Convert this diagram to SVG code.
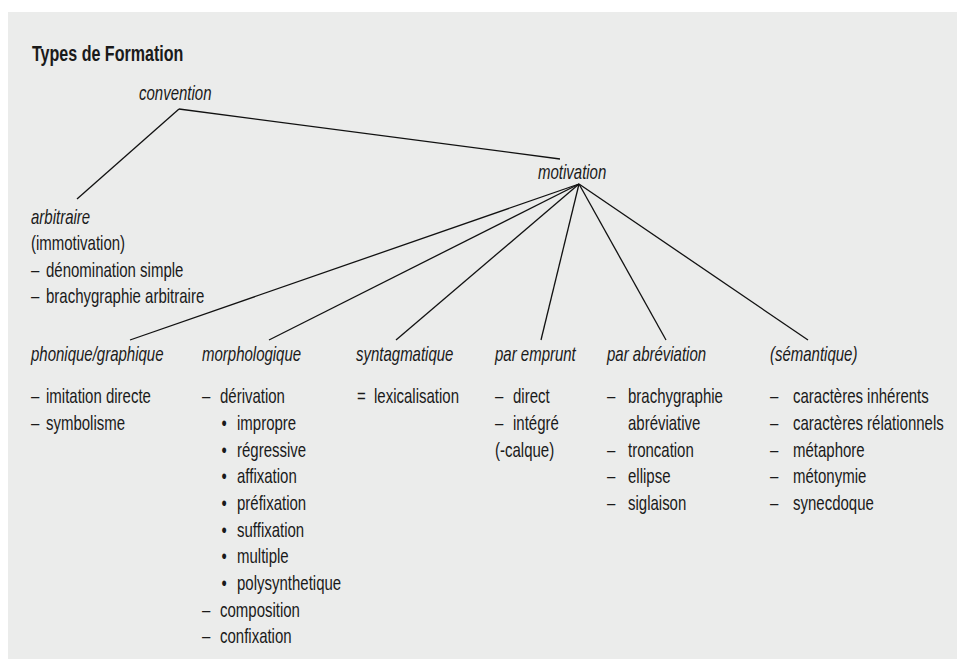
<svg xmlns="http://www.w3.org/2000/svg" width="957" height="660" viewBox="0 0 957 660">
<style>
.bg{fill:#ebeceb}
text{font-family:"Liberation Sans",Arial,sans-serif;font-size:20px;fill:#1a1a1a}
.i{font-style:italic}
.title{font-weight:bold;font-size:22px}
.c line{stroke:#111;stroke-width:1.3;fill:none}
</style>
<rect width="957" height="660" fill="#ffffff"/>
<rect class="bg" x="8" y="12" width="949" height="647"/>
<text class="title" transform="translate(32 61) scale(0.73 1)">Types de Formation</text>

<g id="connectors" class="c">
<line x1="179" y1="109" x2="77" y2="199"/>
<line x1="179" y1="109" x2="560" y2="159"/>
<line x1="579" y1="184" x2="130" y2="340"/>
<line x1="579" y1="184" x2="269" y2="340"/>
<line x1="579" y1="184" x2="396" y2="340"/>
<line x1="579" y1="184" x2="541" y2="340"/>
<line x1="579" y1="184" x2="666" y2="340"/>
<line x1="579" y1="184" x2="808" y2="340"/>
</g>

<g id="n-convention">
<text class="i" transform="translate(139 100) scale(0.75 1)">convention</text>
</g>
<g id="n-motivation">
<text class="i" transform="translate(538 179) scale(0.75 1)">motivation</text>
</g>
<g id="n-arbitraire">
<text class="i" transform="translate(31 224) scale(0.75 1)">arbitraire</text>
<text transform="translate(31 250) scale(0.75 1)">(immotivation)</text>
<text transform="translate(31 277) scale(0.75 1)">–<tspan x="20">dénomination simple</tspan></text>
<text transform="translate(31 303) scale(0.75 1)">–<tspan x="20">brachygraphie arbitraire</tspan></text>
</g>

<g id="n-phonique">
<text class="i" transform="translate(31 361) scale(0.75 1)">phonique/graphique</text>
<text transform="translate(31 403) scale(0.75 1)">–<tspan x="20">imitation directe</tspan></text>
<text transform="translate(31 430) scale(0.75 1)">–<tspan x="20">symbolisme</tspan></text>
</g>

<g id="n-morphologique">
<text class="i" transform="translate(202 361) scale(0.75 1)">morphologique</text>
<text transform="translate(202 403) scale(0.75 1)">–<tspan x="24">dérivation</tspan></text>
<text transform="translate(202 430) scale(0.75 1)"><tspan x="26">•</tspan><tspan x="46.7">impropre</tspan></text>
<text transform="translate(202 457) scale(0.75 1)"><tspan x="26">•</tspan><tspan x="46.7">régressive</tspan></text>
<text transform="translate(202 483) scale(0.75 1)"><tspan x="26">•</tspan><tspan x="46.7">affixation</tspan></text>
<text transform="translate(202 510) scale(0.75 1)"><tspan x="26">•</tspan><tspan x="46.7">préfixation</tspan></text>
<text transform="translate(202 537) scale(0.75 1)"><tspan x="26">•</tspan><tspan x="46.7">suffixation</tspan></text>
<text transform="translate(202 563) scale(0.75 1)"><tspan x="26">•</tspan><tspan x="46.7">multiple</tspan></text>
<text transform="translate(202 590) scale(0.75 1)"><tspan x="26">•</tspan><tspan x="46.7">polysynthetique</tspan></text>
<text transform="translate(202 617) scale(0.75 1)">–<tspan x="24">composition</tspan></text>
<text transform="translate(202 643) scale(0.75 1)">–<tspan x="24">confixation</tspan></text>
</g>

<g id="n-syntagmatique">
<text class="i" transform="translate(356 361) scale(0.75 1)">syntagmatique</text>
<text transform="translate(357 403) scale(0.75 1)">=<tspan x="22.7">lexicalisation</tspan></text>
</g>

<g id="n-emprunt">
<text class="i" transform="translate(495 361) scale(0.75 1)">par emprunt</text>
<text transform="translate(495 403) scale(0.75 1)">–<tspan x="24">direct</tspan></text>
<text transform="translate(495 430) scale(0.75 1)">–<tspan x="24">intégré</tspan></text>
<text transform="translate(495 457) scale(0.75 1)">(-calque)</text>
</g>

<g id="n-abreviation">
<text class="i" transform="translate(607 361) scale(0.75 1)">par abréviation</text>
<text transform="translate(607 403) scale(0.75 1)">–<tspan x="28">brachygraphie</tspan></text>
<text transform="translate(607 430) scale(0.75 1)"><tspan x="28">abréviative</tspan></text>
<text transform="translate(607 457) scale(0.75 1)">–<tspan x="28">troncation</tspan></text>
<text transform="translate(607 483) scale(0.75 1)">–<tspan x="28">ellipse</tspan></text>
<text transform="translate(607 510) scale(0.75 1)">–<tspan x="28">siglaison</tspan></text>
</g>

<g id="n-semantique">
<text class="i" transform="translate(770 361) scale(0.75 1)">(sémantique)</text>
<text transform="translate(770 403) scale(0.75 1)">–<tspan x="30.7">caractères inhérents</tspan></text>
<text transform="translate(770 430) scale(0.75 1)">–<tspan x="30.7">caractères rélationnels</tspan></text>
<text transform="translate(770 457) scale(0.75 1)">–<tspan x="30.7">métaphore</tspan></text>
<text transform="translate(770 483) scale(0.75 1)">–<tspan x="30.7">métonymie</tspan></text>
<text transform="translate(770 510) scale(0.75 1)">–<tspan x="30.7">synecdoque</tspan></text>
</g>
</svg>
